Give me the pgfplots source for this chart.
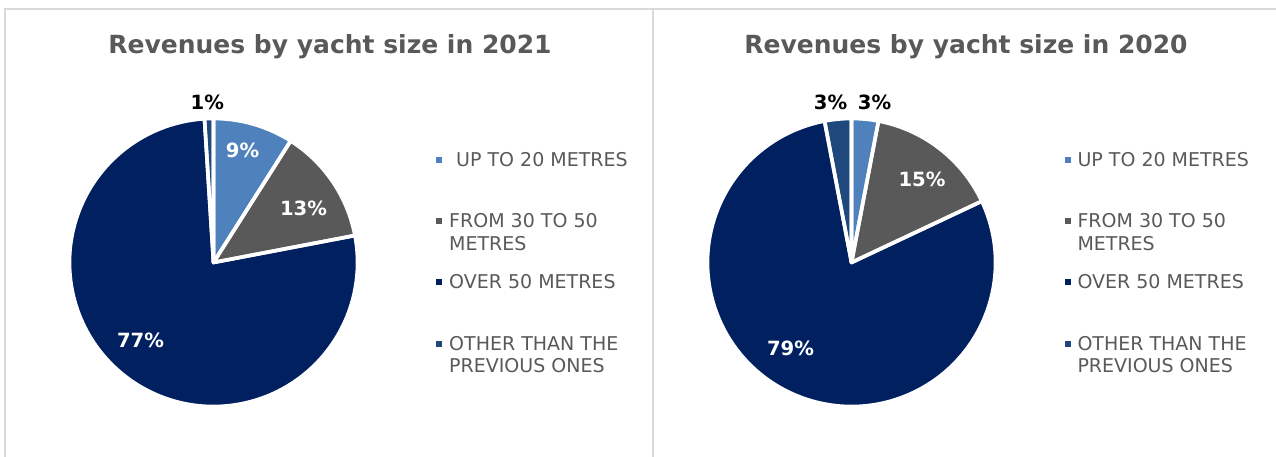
\documentclass[border=0pt]{standalone}
\usepackage{pgfplots}
\pgfplotsset{compat=1.18}
\usepackage{fontspec}
\setmainfont{DejaVu Sans}
\definecolor{cUp}{HTML}{4F81BD}
\definecolor{cMid}{HTML}{595959}
\definecolor{cOver}{HTML}{002060}
\definecolor{cOther}{HTML}{1F497D}
\definecolor{txt}{HTML}{595959}
\definecolor{frame}{HTML}{D9D9D9}
% #1 start (cumulative %), #2 end (cumulative %), #3 colour
\newcommand{\pieslice}[3]{\fill[#3] (axis cs:0,0) -- (axis cs:{cos(90-3.6*#1)},{sin(90-3.6*#1)}) arc[start angle={90-3.6*#1}, end angle={90-3.6*#2}, radius=144pt] -- cycle;}
\newcommand{\pieedge}[2]{\draw[white, line width=3.6pt, line join=round] (axis cs:0,0) -- (axis cs:{cos(90-3.6*#1)},{sin(90-3.6*#1)}) arc[start angle={90-3.6*#1}, end angle={90-3.6*#2}, radius=144pt] -- cycle;}
\newcommand{\legline}[3]{\node[anchor=base west, inner sep=0pt, text=txt, font=\fontsize{19}{22}\selectfont] at (#1pt,#2pt) {#3};}
\newcommand{\legmark}[3]{\fill[#3] ({#1pt-3pt},{#2pt-3pt}) rectangle ++(6pt,6pt);}
\newcommand{\pct}[4]{\node[inner sep=0pt, text=#3, font=\fontsize{19.6}{22}\selectfont\bfseries] at (#1pt,#2pt) {#4};}
\begin{document}
\begin{tikzpicture}
\useasboundingbox (0pt,0pt) rectangle (1276pt,457pt);
% panel frames
\draw[frame, line width=2pt] (5pt,0pt) -- (5pt,448pt) -- (1276pt,448pt);
\draw[frame, line width=2pt] (652.5pt,0pt) -- (652.5pt,448pt);
% titles
\node[anchor=base, inner sep=0pt, text=txt, font=\fontsize{25}{30}\selectfont\bfseries] at (330pt,403pt) {Revenues by yacht size in 2021};
\node[anchor=base, inner sep=0pt, text=txt, font=\fontsize{25}{30}\selectfont\bfseries] at (966pt,403pt) {Revenues by yacht size in 2020};
% ---- 2021: 9, 13, 77, 1
\begin{axis}[at={(213.5pt,194.5pt)}, anchor=center, scale only axis, width=288pt, height=288pt,
  xmin=-1, xmax=1, ymin=-1, ymax=1, hide axis, clip=false]
\pieslice{0}{9}{cUp}
\pieslice{9}{22}{cMid}
\pieslice{22}{99}{cOver}
\pieslice{99}{100}{cOther}
\pieedge{0}{9}
\pieedge{9}{22}
\pieedge{22}{99}
\pieedge{99}{100}
\end{axis}
% ---- 2020: 3, 15, 79, 3
\begin{axis}[at={(851.5pt,194.5pt)}, anchor=center, scale only axis, width=288pt, height=288pt,
  xmin=-1, xmax=1, ymin=-1, ymax=1, hide axis, clip=false]
\pieslice{0}{3}{cUp}
\pieslice{3}{18}{cMid}
\pieslice{18}{97}{cOver}
\pieslice{97}{100}{cOther}
\pieedge{0}{3}
\pieedge{3}{18}
\pieedge{18}{97}
\pieedge{97}{100}
\end{axis}
% percentage labels
\pct{207.3}{355}{black}{1\%}
\pct{242.5}{307}{white}{9\%}
\pct{303.5}{249}{white}{13\%}
\pct{140.5}{117}{white}{77\%}
\pct{830.5}{355}{black}{3\%}
\pct{874.5}{355}{black}{3\%}
\pct{922}{277.5}{white}{15\%}
\pct{790.5}{109}{white}{79\%}
% legends
\legmark{439}{297}{cUp}
\legline{456}{290}{UP TO 20 METRES}
\legmark{439}{236}{cMid}
\legline{449}{229.5}{FROM 30 TO 50}
\legline{449}{206.3}{METRES}
\legmark{439}{175}{cOver}
\legline{449}{168}{OVER 50 METRES}
\legmark{439}{113.3}{cOther}
\legline{449}{106.3}{OTHER THAN THE}
\legline{449}{84.7}{PREVIOUS ONES}
\legmark{1068.3}{297}{cUp}
\legline{1077.3}{290}{UP TO 20 METRES}
\legmark{1068.3}{236}{cMid}
\legline{1077.3}{229.5}{FROM 30 TO 50}
\legline{1077.3}{206.3}{METRES}
\legmark{1068.3}{175}{cOver}
\legline{1077.3}{168}{OVER 50 METRES}
\legmark{1068.3}{113.3}{cOther}
\legline{1077.3}{106.3}{OTHER THAN THE}
\legline{1077.3}{84.7}{PREVIOUS ONES}
\end{tikzpicture}
\end{document}
